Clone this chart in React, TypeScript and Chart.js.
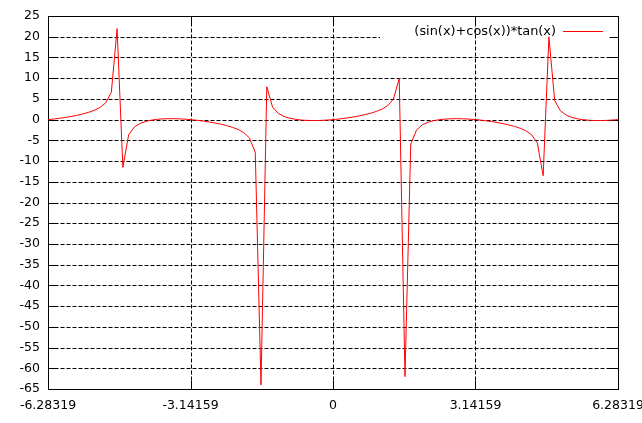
import React, { useEffect, useRef } from "react";
import { Chart, registerables } from "chart.js";

Chart.register(...registerables);

// Sample positions (x) of the plotted curve, -2π .. 2π
const xs = [
  -6.283, -6.156, -6.029, -5.902, -5.775, -5.649, -5.522, -5.395, -5.268, -5.141,
  -5.014, -4.887, -4.760, -4.633, -4.506, -4.379, -4.252, -4.125, -3.998, -3.871,
  -3.745, -3.618, -3.491, -3.364, -3.237, -3.110, -2.983, -2.856, -2.729, -2.602,
  -2.475, -2.348, -2.221, -2.094, -1.967, -1.841, -1.714, -1.587, -1.460, -1.333,
  -1.206, -1.079, -0.952, -0.825, -0.698, -0.571, -0.444, -0.317, -0.190, -0.063,
  0.063, 0.190, 0.317, 0.444, 0.571, 0.698, 0.825, 0.952, 1.079, 1.206,
  1.333, 1.460, 1.587, 1.714, 1.841, 1.967, 2.094, 2.221, 2.348, 2.475,
  2.602, 2.729, 2.856, 2.983, 3.110, 3.237, 3.364, 3.491, 3.618, 3.745,
  3.871, 3.998, 4.125, 4.252, 4.379, 4.506, 4.633, 4.760, 4.887, 5.014,
  5.141, 5.268, 5.395, 5.522, 5.649, 5.775, 5.902, 6.029, 6.156, 6.283,
];

// Curve values read for each sample
const ys = [
  0, 0.143, 0.316, 0.52, 0.757, 1.029, 1.348, 1.732, 2.219, 2.901,
  4.026, 6.57, 21.968, -11.542, -3.699, -1.785, -0.912, -0.419, -0.116, 0.07,
  0.177, 0.222, 0.218, 0.171, 0.086, -0.033, -0.183, -0.364, -0.576, -0.821,
  -1.104, -1.437, -1.841, -2.366, -3.124, -4.45, -7.874, -64.012, 7.918, 3.034,
  1.511, 0.764, 0.329, 0.061, -0.103, -0.193, -0.225, -0.21, -0.153, -0.059,
  0.067, 0.226, 0.415, 0.634, 0.888, 1.182, 1.53, 1.959, 2.527, 3.379,
  4.978, 9.906, -62.012, -5.895, -2.523, -1.28, -0.634, -0.25, -0.011, 0.132,
  0.206, 0.225, 0.199, 0.133, 0.031, -0.104, -0.27, -0.467, -0.694, -0.957,
  -1.263, -1.628, -2.084, -2.704, -3.675, -5.657, -13.536, 19.97, 4.6, 2.116,
  1.082, 0.52, 0.179, -0.032, -0.156, -0.216, -0.223, -0.186, -0.11, 0,
];

const xTickValues = [-6.28319, -3.14159, 0, 3.14159, 6.28319];
const xTickLabels = ["-6.28319", "-3.14159", "0", "3.14159", "6.28319"];
const yMin = -65;
const yMax = 25;
const yStep = 5;
const seriesLabel = "(sin(x)+cos(x))*tan(x)";
const lineColor = "#ff0000";

const FONT_FAMILY = '"DejaVu Sans", "Liberation Sans", sans-serif';
const TICK_FONT_SIZE = 12.5;
const KEY_FONT = `12.9px ${FONT_FAMILY}`;
const TICK_LEN = 9;
const DASH = [4, 2];

const crisp = (v: number) => Math.round(v) + 0.5;

const gnuplotFrame = {
  id: "gnuplotFrame",
  beforeDatasetsDraw(chart: any) {
    const { ctx, chartArea: a, scales } = chart;
    const xS = scales.x;
    const yS = scales.y;
    const L = crisp(a.left);
    const R = crisp(a.right);
    const T = crisp(a.top);
    const B = crisp(a.bottom);
    const keyGapLeft = a.right - 238;
    const keyBottom = a.top + 28;

    ctx.save();
    ctx.strokeStyle = "#000";
    ctx.lineWidth = 1;

    // dashed grid
    ctx.setLineDash(DASH);
    yS.ticks.forEach((t: any) => {
      if (t.value === yMin || t.value === yMax) return;
      const y = crisp(yS.getPixelForValue(t.value));
      const xEnd = y < keyBottom ? keyGapLeft : R;
      ctx.beginPath();
      ctx.moveTo(L, y);
      ctx.lineTo(xEnd, y);
      ctx.stroke();
    });
    xS.ticks.forEach((t: any, i: number) => {
      if (i === 0 || i === xS.ticks.length - 1) return;
      const x = crisp(xS.getPixelForValue(t.value));
      ctx.beginPath();
      ctx.moveTo(x, T);
      ctx.lineTo(x, B);
      ctx.stroke();
    });

    // inward tick marks on all four sides
    ctx.setLineDash([]);
    ctx.beginPath();
    yS.ticks.forEach((t: any) => {
      if (t.value === yMin || t.value === yMax) return;
      const y = crisp(yS.getPixelForValue(t.value));
      ctx.moveTo(L, y);
      ctx.lineTo(L + TICK_LEN, y);
      ctx.moveTo(R, y);
      ctx.lineTo(R - TICK_LEN, y);
    });
    xS.ticks.forEach((t: any, i: number) => {
      if (i === 0 || i === xS.ticks.length - 1) return;
      const x = crisp(xS.getPixelForValue(t.value));
      ctx.moveTo(x, B);
      ctx.lineTo(x, B - TICK_LEN);
      ctx.moveTo(x, T);
      ctx.lineTo(x, T + TICK_LEN);
    });
    ctx.stroke();

    // border
    ctx.strokeRect(L, T, R - L, B - T);
    ctx.restore();
  },
  afterDatasetsDraw(chart: any) {
    const { ctx, chartArea: a } = chart;
    const y = Math.round(a.top + 15) + 0.5;
    const textRight = a.right - 62;
    ctx.save();
    ctx.font = KEY_FONT;
    ctx.fillStyle = "#000";
    ctx.textAlign = "right";
    ctx.textBaseline = "middle";
    ctx.fillText(seriesLabel, textRight, y);
    ctx.strokeStyle = lineColor;
    ctx.lineWidth = 1;
    ctx.beginPath();
    ctx.moveTo(a.right - 55, y);
    ctx.lineTo(a.right - 15, y);
    ctx.stroke();
    ctx.restore();
  },
};

export default function App() {
  const canvasRef = useRef<HTMLCanvasElement | null>(null);

  useEffect(() => {
    const canvas = canvasRef.current;
    if (!canvas) return;
    const points = xs.map((x, i) => ({ x, y: ys[i] }));
    const chart = new Chart(canvas, {
      type: "line",
      data: {
        datasets: [
          {
            label: seriesLabel,
            data: points,
            borderColor: lineColor,
            backgroundColor: lineColor,
            borderWidth: 1,
            pointRadius: 0,
            pointHoverRadius: 0,
            tension: 0,
            fill: false,
          },
        ],
      },
      options: {
        animation: false,
        responsive: false,
        devicePixelRatio: 1,
        events: [],
        layout: { padding: { left: 0, top: 16, right: 24, bottom: 0 } },
        plugins: {
          legend: { display: false },
          tooltip: { enabled: false },
        },
        scales: {
          x: {
            type: "linear",
            min: xTickValues[0],
            max: xTickValues[xTickValues.length - 1],
            grid: { display: false, drawTicks: false },
            border: { display: false },
            afterBuildTicks: (scale: any) => {
              scale.ticks = xTickValues.map((v) => ({ value: v }));
            },
            afterFit: (scale: any) => {
              scale.height = 34;
              scale.paddingLeft = 0;
              scale.paddingRight = 0;
            },
            ticks: {
              autoSkip: false,
              maxRotation: 0,
              minRotation: 0,
              padding: 9,
              color: "#000",
              font: { family: FONT_FAMILY, size: TICK_FONT_SIZE },
              callback: (_v: any, idx: number) => xTickLabels[idx],
            },
          },
          y: {
            type: "linear",
            min: yMin,
            max: yMax,
            grid: { display: false, drawTicks: false },
            border: { display: false },
            afterFit: (scale: any) => {
              scale.width = 48;
              scale.paddingTop = 0;
              scale.paddingBottom = 0;
            },
            ticks: {
              stepSize: yStep,
              padding: 8,
              color: "#000",
              font: { family: FONT_FAMILY, size: TICK_FONT_SIZE },
            },
          },
        },
      },
      plugins: [gnuplotFrame],
    });
    return () => chart.destroy();
  }, []);

  return (
    <div style={{ position: "fixed", left: 0, top: 0, width: 642, height: 423, background: "#fff" }}>
      <canvas ref={canvasRef} width={642} height={423} style={{ display: "block" }} />
    </div>
  );
}
